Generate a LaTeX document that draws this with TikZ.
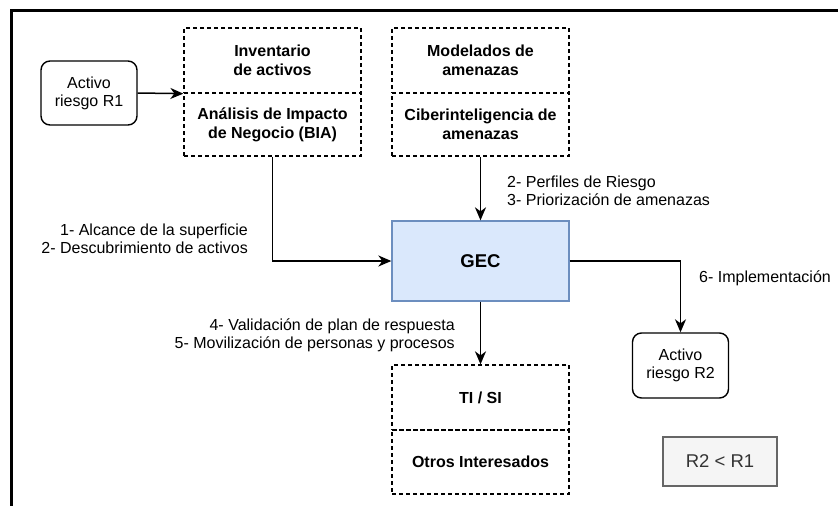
\documentclass[tikz,border=0pt]{standalone}
\usepackage{fontspec}
\setmainfont{Liberation Sans}
\usetikzlibrary{arrows.meta}
\definecolor{gecfill}{HTML}{DAE8FC}
\definecolor{gecdraw}{HTML}{6C8EBF}
\definecolor{grayfill}{HTML}{F5F5F5}
\definecolor{graydraw}{HTML}{666666}
\definecolor{graytext}{HTML}{333333}
\tikzset{
  base/.style={font=\fontsize{16}{18}\selectfont, align=center, inner sep=0pt},
  rbox/.style={base, draw, line width=1.4pt, rounded corners=9pt, minimum width=96pt, minimum height=64pt},
  dbox/.style={base, draw, dashed, dash pattern=on 4pt off 3pt, line width=1.3pt, minimum width=177pt, font=\fontsize{16}{19}\selectfont\bfseries},
  gecbox/.style={base, draw=gecdraw, fill=gecfill, line width=1.3pt, minimum width=177pt, minimum height=80pt, font=\fontsize{18.5}{20}\selectfont\bfseries},
  graybox/.style={base, draw=graydraw, fill=grayfill, text=graytext, line width=1.3pt, minimum width=114pt, minimum height=49pt, font=\fontsize{18.5}{20}\selectfont},
  lbl/.style={base, font=\fontsize{16}{18}\selectfont},
  conn/.style={line width=1.5pt, -{Stealth[length=13pt,width=11pt,inset=4pt]}}
}
\begin{document}
\begin{tikzpicture}[x=1pt,y=-1pt]
\useasboundingbox (0,0) rectangle (838,506);
\fill[white] (0,0) rectangle (838,506);
\begin{scope}
\clip (0,0) rectangle (838,506);
\draw[line width=3pt] (860,10.5) -- (11,10.5) -- (11,530);
\end{scope}

\node[rbox] (r1) at (89,93) {Activo\\riesgo R1};
\node[dbox, minimum height=65pt] (inv) at (272.5,60.5) {Inventario\\de activos};
\node[dbox, minimum height=63pt] (bia) at (272.5,124.5) {Análisis de Impacto\\de Negocio (BIA)};
\node[dbox, minimum height=65pt] (mod) at (480.5,60.5) {Modelados de\\amenazas};
\node[dbox, minimum height=63pt] (cib) at (480.5,124.5) {Ciberinteligencia de\\amenazas};
\node[gecbox] (gec) at (480.5,261) {GEC};
\node[dbox, minimum height=65pt] (ti) at (480.5,397.5) {TI / SI};
\node[dbox, minimum height=64pt] (ot) at (480.5,462) {Otros Interesados};
\node[rbox, minimum height=65pt] (r2) at (680.5,365.5) {Activo\\riesgo R2};
\node[graybox] (rr) at (720,461.5) {R2 < R1};

\node[lbl, align=right, anchor=east] (l1) at (248,239) {1- Alcance de la superficie\\2- Descubrimiento de activos};
\node[lbl, align=left, anchor=west] (l2) at (507,191) {2- Perfiles de Riesgo\\3- Priorización de amenazas};
\node[lbl, align=right, anchor=east] (l3) at (455,335) {4- Validación de plan de respuesta\\5- Movilización de personas y procesos};
\node[lbl, anchor=west] (l4) at (699,278) {6- Implementación};

\draw[conn] (r1.east) -- (inv.south west);
\draw[conn] (bia.south) |- (gec.west);
\draw[conn] (cib.south) -- (gec.north);
\draw[conn] (gec.south) -- (ti.north);
\draw[conn] (gec.east) -| (r2.north);
\end{tikzpicture}
\end{document}
